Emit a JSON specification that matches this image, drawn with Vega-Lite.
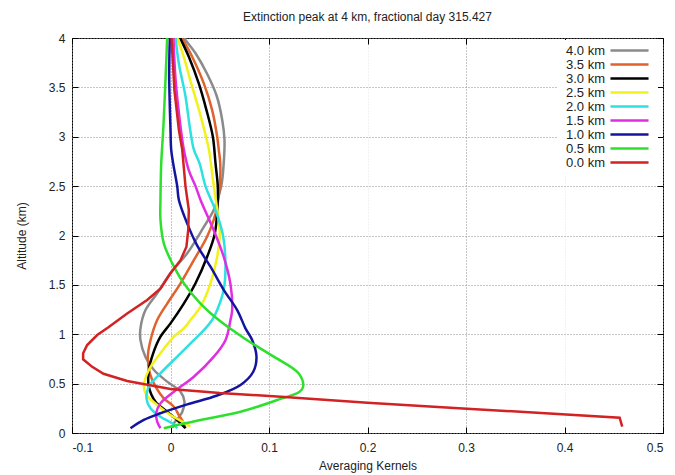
{
  "$schema": "https://vega.github.io/schema/vega-lite/v6.json",
  "width": 591,
  "height": 395,
  "autosize": {"type": "none"},
  "padding": {"left": 72, "top": 38, "right": 12, "bottom": 42},
  "background": "white",
  "title": {"text": "Extinction peak at 4 km, fractional day 315.427", "fontSize": 12, "fontWeight": "normal", "font": "Liberation Sans", "color": "#222", "offset": 8},
  "config": {
    "font": "Liberation Sans",
    "view": {"stroke": "#000", "strokeWidth": 1},
    "axis": {"labelFont": "Liberation Sans", "titleFont": "Liberation Sans", "labelFontSize": 12, "titleFontSize": 12, "titleFontWeight": "normal", "labelColor": "#222", "titleColor": "#222", "tickColor": "#000", "domain": false}
  },
  "datasets": {
    "d": [
      {"k":"4.0 km","x":0.002,"a":0.05},{"k":"4.0 km","x":0.0034,"a":0.098},{"k":"4.0 km","x":0.0085,"a":0.16},{"k":"4.0 km","x":0.012,"a":0.216},{"k":"4.0 km","x":0.0142,"a":0.317},{"k":"4.0 km","x":0.0102,"a":0.418},{"k":"4.0 km","x":-0.0034,"a":0.52},{"k":"4.0 km","x":-0.017,"a":0.64},{"k":"4.0 km","x":-0.0254,"a":0.77},{"k":"4.0 km","x":-0.0305,"a":0.94},{"k":"4.0 km","x":-0.0305,"a":1.06},{"k":"4.0 km","x":-0.0254,"a":1.245},{"k":"4.0 km","x":-0.0135,"a":1.415},{"k":"4.0 km","x":0.0,"a":1.62},{"k":"4.0 km","x":0.017,"a":1.82},{"k":"4.0 km","x":0.034,"a":2.09},{"k":"4.0 km","x":0.044,"a":2.26},{"k":"4.0 km","x":0.0515,"a":2.5},{"k":"4.0 km","x":0.054,"a":2.73},{"k":"4.0 km","x":0.0548,"a":2.97},{"k":"4.0 km","x":0.0525,"a":3.17},{"k":"4.0 km","x":0.047,"a":3.41},{"k":"4.0 km","x":0.037,"a":3.64},{"k":"4.0 km","x":0.0254,"a":3.845},{"k":"4.0 km","x":0.0152,"a":3.98},{"k":"4.0 km","x":0.014,"a":4.0},
      {"k":"3.5 km","x":0.015,"a":0.05},{"k":"3.5 km","x":0.0135,"a":0.098},{"k":"3.5 km","x":0.0085,"a":0.182},{"k":"3.5 km","x":0.0034,"a":0.266},{"k":"3.5 km","x":-0.0068,"a":0.351},{"k":"3.5 km","x":-0.0152,"a":0.47},{"k":"3.5 km","x":-0.021,"a":0.605},{"k":"3.5 km","x":-0.023,"a":0.773},{"k":"3.5 km","x":-0.0203,"a":0.94},{"k":"3.5 km","x":-0.0135,"a":1.144},{"k":"3.5 km","x":-0.0034,"a":1.31},{"k":"3.5 km","x":0.0102,"a":1.516},{"k":"3.5 km","x":0.0237,"a":1.75},{"k":"3.5 km","x":0.0372,"a":1.99},{"k":"3.5 km","x":0.0457,"a":2.22},{"k":"3.5 km","x":0.05,"a":2.5},{"k":"3.5 km","x":0.0505,"a":2.73},{"k":"3.5 km","x":0.049,"a":2.87},{"k":"3.5 km","x":0.0474,"a":3.0},{"k":"3.5 km","x":0.0423,"a":3.27},{"k":"3.5 km","x":0.0338,"a":3.54},{"k":"3.5 km","x":0.022,"a":3.81},{"k":"3.5 km","x":0.0129,"a":3.98},{"k":"3.5 km","x":0.012,"a":4.0},
      {"k":"3.0 km","x":0.0152,"a":0.048},{"k":"3.0 km","x":0.0068,"a":0.132},{"k":"3.0 km","x":-0.0034,"a":0.216},{"k":"3.0 km","x":-0.0152,"a":0.317},{"k":"3.0 km","x":-0.022,"a":0.469},{"k":"3.0 km","x":-0.022,"a":0.638},{"k":"3.0 km","x":-0.0176,"a":0.807},{"k":"3.0 km","x":-0.0102,"a":0.975},{"k":"3.0 km","x":0.0,"a":1.11},{"k":"3.0 km","x":0.0135,"a":1.31},{"k":"3.0 km","x":0.0254,"a":1.516},{"k":"3.0 km","x":0.0372,"a":1.785},{"k":"3.0 km","x":0.045,"a":2.02},{"k":"3.0 km","x":0.048,"a":2.36},{"k":"3.0 km","x":0.048,"a":2.5},{"k":"3.0 km","x":0.0457,"a":2.73},{"k":"3.0 km","x":0.043,"a":3.0},{"k":"3.0 km","x":0.0365,"a":3.27},{"k":"3.0 km","x":0.0287,"a":3.54},{"k":"3.0 km","x":0.0186,"a":3.81},{"k":"3.0 km","x":0.0108,"a":3.98},{"k":"3.0 km","x":0.01,"a":4.0},
      {"k":"2.5 km","x":0.0203,"a":0.064},{"k":"2.5 km","x":0.0119,"a":0.115},{"k":"2.5 km","x":0.0,"a":0.182},{"k":"2.5 km","x":-0.0135,"a":0.284},{"k":"2.5 km","x":-0.0244,"a":0.385},{"k":"2.5 km","x":-0.0271,"a":0.469},{"k":"2.5 km","x":-0.022,"a":0.638},{"k":"2.5 km","x":-0.0102,"a":0.807},{"k":"2.5 km","x":0.0034,"a":0.975},{"k":"2.5 km","x":0.0135,"a":1.06},{"k":"2.5 km","x":0.0203,"a":1.144},{"k":"2.5 km","x":0.0305,"a":1.28},{"k":"2.5 km","x":0.0406,"a":1.516},{"k":"2.5 km","x":0.0474,"a":1.785},{"k":"2.5 km","x":0.05,"a":2.02},{"k":"2.5 km","x":0.048,"a":2.22},{"k":"2.5 km","x":0.044,"a":2.5},{"k":"2.5 km","x":0.041,"a":2.73},{"k":"2.5 km","x":0.039,"a":2.87},{"k":"2.5 km","x":0.036,"a":3.0},{"k":"2.5 km","x":0.029,"a":3.27},{"k":"2.5 km","x":0.021,"a":3.54},{"k":"2.5 km","x":0.0135,"a":3.81},{"k":"2.5 km","x":0.007,"a":4.0},
      {"k":"2.0 km","x":0.0068,"a":0.048},{"k":"2.0 km","x":0.0017,"a":0.098},{"k":"2.0 km","x":-0.0102,"a":0.165},{"k":"2.0 km","x":-0.0203,"a":0.25},{"k":"2.0 km","x":-0.0244,"a":0.351},{"k":"2.0 km","x":-0.022,"a":0.469},{"k":"2.0 km","x":-0.0102,"a":0.605},{"k":"2.0 km","x":0.0068,"a":0.773},{"k":"2.0 km","x":0.0237,"a":0.94},{"k":"2.0 km","x":0.0355,"a":1.06},{"k":"2.0 km","x":0.0423,"a":1.144},{"k":"2.0 km","x":0.0474,"a":1.245},{"k":"2.0 km","x":0.054,"a":1.45},{"k":"2.0 km","x":0.0558,"a":1.684},{"k":"2.0 km","x":0.0535,"a":1.99},{"k":"2.0 km","x":0.047,"a":2.22},{"k":"2.0 km","x":0.0355,"a":2.5},{"k":"2.0 km","x":0.0295,"a":2.73},{"k":"2.0 km","x":0.0237,"a":2.87},{"k":"2.0 km","x":0.02,"a":3.07},{"k":"2.0 km","x":0.0152,"a":3.41},{"k":"2.0 km","x":0.0085,"a":3.74},{"k":"2.0 km","x":0.0051,"a":4.0},
      {"k":"1.5 km","x":-0.0102,"a":0.048},{"k":"1.5 km","x":-0.0135,"a":0.115},{"k":"1.5 km","x":-0.0145,"a":0.2},{"k":"1.5 km","x":-0.0102,"a":0.3},{"k":"1.5 km","x":0.0034,"a":0.418},{"k":"1.5 km","x":0.0237,"a":0.57},{"k":"1.5 km","x":0.044,"a":0.773},{"k":"1.5 km","x":0.0558,"a":0.94},{"k":"1.5 km","x":0.0609,"a":1.144},{"k":"1.5 km","x":0.0626,"a":1.245},{"k":"1.5 km","x":0.061,"a":1.5},{"k":"1.5 km","x":0.054,"a":1.785},{"k":"1.5 km","x":0.044,"a":2.05},{"k":"1.5 km","x":0.0305,"a":2.36},{"k":"1.5 km","x":0.0254,"a":2.5},{"k":"1.5 km","x":0.0186,"a":2.66},{"k":"1.5 km","x":0.0135,"a":2.87},{"k":"1.5 km","x":0.009,"a":3.2},{"k":"1.5 km","x":0.005,"a":3.6},{"k":"1.5 km","x":0.003,"a":4.0},
      {"k":"1.0 km","x":-0.0406,"a":0.048},{"k":"1.0 km","x":-0.0271,"a":0.132},{"k":"1.0 km","x":-0.0102,"a":0.2},{"k":"1.0 km","x":0.017,"a":0.29},{"k":"1.0 km","x":0.0474,"a":0.38},{"k":"1.0 km","x":0.0711,"a":0.486},{"k":"1.0 km","x":0.084,"a":0.62},{"k":"1.0 km","x":0.0873,"a":0.773},{"k":"1.0 km","x":0.083,"a":0.94},{"k":"1.0 km","x":0.0761,"a":1.06},{"k":"1.0 km","x":0.0677,"a":1.245},{"k":"1.0 km","x":0.054,"a":1.45},{"k":"1.0 km","x":0.0406,"a":1.684},{"k":"1.0 km","x":0.027,"a":1.9},{"k":"1.0 km","x":0.017,"a":2.12},{"k":"1.0 km","x":0.0085,"a":2.36},{"k":"1.0 km","x":0.0068,"a":2.5},{"k":"1.0 km","x":0.0027,"a":2.73},{"k":"1.0 km","x":0.0007,"a":2.87},{"k":"1.0 km","x":0.0,"a":3.07},{"k":"1.0 km","x":-0.0013,"a":3.61},{"k":"1.0 km","x":-0.0007,"a":4.0},
      {"k":"0.5 km","x":-0.0068,"a":0.048},{"k":"0.5 km","x":0.0068,"a":0.081},{"k":"0.5 km","x":0.0305,"a":0.132},{"k":"0.5 km","x":0.0711,"a":0.216},{"k":"0.5 km","x":0.1083,"a":0.334},{"k":"0.5 km","x":0.131,"a":0.418},{"k":"0.5 km","x":0.1347,"a":0.469},{"k":"0.5 km","x":0.13,"a":0.605},{"k":"0.5 km","x":0.1049,"a":0.773},{"k":"0.5 km","x":0.0778,"a":0.94},{"k":"0.5 km","x":0.049,"a":1.144},{"k":"0.5 km","x":0.0305,"a":1.31},{"k":"0.5 km","x":0.0135,"a":1.516},{"k":"0.5 km","x":0.0017,"a":1.72},{"k":"0.5 km","x":-0.0068,"a":1.92},{"k":"0.5 km","x":-0.0102,"a":2.16},{"k":"0.5 km","x":-0.0102,"a":2.36},{"k":"0.5 km","x":-0.0094,"a":2.73},{"k":"0.5 km","x":-0.0074,"a":3.07},{"k":"0.5 km","x":-0.0058,"a":3.41},{"k":"0.5 km","x":-0.0044,"a":3.74},{"k":"0.5 km","x":-0.0034,"a":4.0},
      {"k":"0.0 km","x":0.4586,"a":0.064},{"k":"0.0 km","x":0.456,"a":0.155},{"k":"0.0 km","x":0.301,"a":0.246},{"k":"0.0 km","x":0.2,"a":0.307},{"k":"0.0 km","x":0.112,"a":0.368},{"k":"0.0 km","x":0.05,"a":0.404},{"k":"0.0 km","x":0.0,"a":0.445},{"k":"0.0 km","x":-0.044,"a":0.527},{"k":"0.0 km","x":-0.068,"a":0.6},{"k":"0.0 km","x":-0.0795,"a":0.67},{"k":"0.0 km","x":-0.0887,"a":0.746},{"k":"0.0 km","x":-0.0887,"a":0.807},{"k":"0.0 km","x":-0.0846,"a":0.891},{"k":"0.0 km","x":-0.0744,"a":0.992},{"k":"0.0 km","x":-0.063,"a":1.07},{"k":"0.0 km","x":-0.044,"a":1.21},{"k":"0.0 km","x":-0.0237,"a":1.347},{"k":"0.0 km","x":-0.01,"a":1.465},{"k":"0.0 km","x":0.0,"a":1.617},{"k":"0.0 km","x":0.0102,"a":1.75},{"k":"0.0 km","x":0.0162,"a":1.887},{"k":"0.0 km","x":0.018,"a":2.056},{"k":"0.0 km","x":0.0186,"a":2.26},{"k":"0.0 km","x":0.0152,"a":2.5},{"k":"0.0 km","x":0.0119,"a":2.87},{"k":"0.0 km","x":0.0085,"a":3.07},{"k":"0.0 km","x":0.004,"a":3.47},{"k":"0.0 km","x":0.001,"a":4.0}
    ]
  },
  "data": {"name": "d"},
  "layer": [
    {
      "transform": [{"filter": "datum.k != '0.0 km'"}],
      "mark": {"type": "line", "strokeWidth": 2.5, "clip": true, "interpolate": "catmull-rom"},
      "encoding": {
        "x": {"field": "x", "type": "quantitative", "scale": {"domain": [-0.1, 0.5], "nice": false, "zero": false},
          "axis": {"orient": "bottom", "title": "Averaging Kernels", "values": [-0.1, 0, 0.1, 0.2, 0.3, 0.4, 0.5], "format": ".1~f", "labelExpr": "replace(datum.label, '−', '-')", "tickSize": -6, "labelPadding": 15, "titlePadding": 7,
            "grid": true, "gridDash": [1, 2], "gridColor": {"condition": {"test": "datum.value == 0.2 || datum.value == 0.4", "value": "#e4e4e4"}, "value": "#8c8c8c"}, "gridWidth": 1}},
        "y": {"field": "a", "type": "quantitative", "scale": {"domain": [0, 4], "nice": false},
          "axis": {"orient": "left", "title": "Altitude (km)", "values": [0, 0.5, 1, 1.5, 2, 2.5, 3, 3.5, 4], "format": ".1~f", "tickSize": -6, "labelPadding": 13, "titlePadding": 20,
            "grid": true, "gridDash": [1, 2], "gridColor": "#8c8c8c", "gridWidth": 1}},
        "color": {"field": "k", "type": "nominal",
          "scale": {"domain": ["4.0 km", "3.5 km", "3.0 km", "2.5 km", "2.0 km", "1.5 km", "1.0 km", "0.5 km", "0.0 km"],
            "range": ["#8a8a8a", "#e0622c", "#000000", "#f2f21a", "#2ee0e0", "#e02ee0", "#1414a0", "#2ee02e", "#d22222"]},
          "legend": {"orient": "none", "legendX": 486, "legendY": 2, "title": null, "symbolType": "M-5,0H5", "symbolSize": 58, "symbolStrokeWidth": 2.5, "symbolOffset": 61, "labelOffset": -70, "labelFontSize": 13, "labelFont": "Liberation Sans", "labelColor": "#222", "rowPadding": -0.6, "padding": 4, "fillColor": "white"}},
        "order": {"field": "a", "type": "quantitative"}
      }
    },
    {
      "transform": [{"filter": "datum.k == '0.0 km'"}],
      "mark": {"type": "line", "strokeWidth": 2.5, "clip": true, "interpolate": "linear"},
      "encoding": {
        "x": {"field": "x", "type": "quantitative", "axis": null},
        "y": {"field": "a", "type": "quantitative", "axis": null},
        "color": {"field": "k", "type": "nominal"},
        "order": {"field": "a", "type": "quantitative"}
      }
    },
    {
      "mark": {"type": "line", "opacity": 0},
      "encoding": {
        "x": {"field": "x", "type": "quantitative", "axis": {"orient": "top", "title": null, "labels": false, "grid": false, "values": [-0.1, 0, 0.1, 0.2, 0.3, 0.4, 0.5], "tickSize": -6}},
        "y": {"field": "a", "type": "quantitative", "axis": {"orient": "right", "title": null, "labels": false, "grid": false, "values": [0, 0.5, 1, 1.5, 2, 2.5, 3, 3.5, 4], "tickSize": -6}},
        "detail": {"field": "k"},
        "order": {"field": "a", "type": "quantitative"}
      }
    }
  ],
  "resolve": {"axis": {"x": "independent", "y": "independent"}}
}
